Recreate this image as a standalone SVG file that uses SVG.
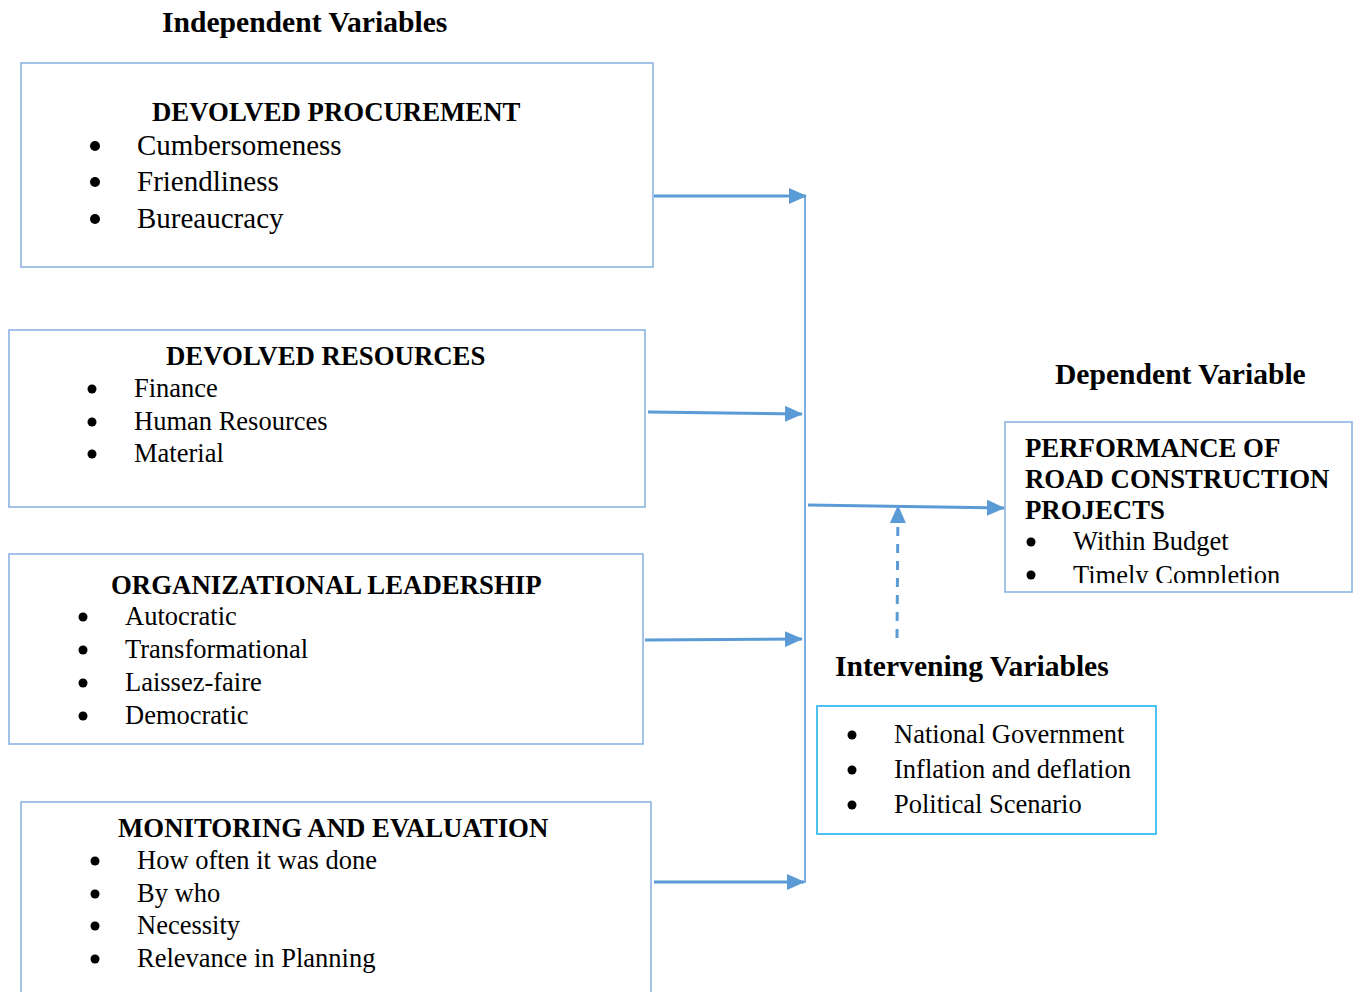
<svg xmlns="http://www.w3.org/2000/svg" width="1357" height="992" viewBox="0 0 1357 992">
<style>
.box{fill:#fff;stroke:#8db3e2;stroke-width:1.6}
.ibox{fill:#fff;stroke:#22b4ee;stroke-width:1.6}
.h{font-family:"Liberation Serif","Times New Roman",serif;font-weight:bold;font-size:29.6px;fill:#000}
.t{font-family:"Liberation Serif","Times New Roman",serif;font-weight:bold;font-size:26.8px;fill:#000}
.i{font-family:"Liberation Serif","Times New Roman",serif;font-size:26.5px;fill:#000}
.i1{font-family:"Liberation Serif","Times New Roman",serif;font-size:29px;fill:#000}
.b{fill:#000}
.arr{stroke:#5b9bd5;stroke-width:3;fill:none;marker-end:url(#ah)}
.vl{stroke:#7eaee0;stroke-width:2;fill:none}
.dash{stroke:#5b9bd5;stroke-width:3;fill:none;stroke-dasharray:9 8;marker-end:url(#ah)}
</style>
<defs>
<marker id="ah" markerUnits="userSpaceOnUse" markerWidth="18" markerHeight="16" refX="17" refY="8" orient="auto">
<path d="M0,0 L18,8 L0,16 Z" fill="#5b9bd5"/>
</marker>
<clipPath id="depclip"><rect x="1005" y="422" width="348" height="161"/></clipPath>
</defs>

<text class="h" x="162" y="32">Independent Variables</text>
<text class="h" x="1055" y="384">Dependent Variable</text>
<text class="h" x="835" y="676">Intervening Variables</text>

<g id="procurement">
<rect class="box" x="21" y="63" width="632" height="204"/>
<text class="t" x="152" y="121">DEVOLVED PROCUREMENT</text>
<circle class="b" cx="95" cy="146" r="5"/><text class="i1" x="137" y="155">Cumbersomeness</text>
<circle class="b" cx="95" cy="182" r="5"/><text class="i1" x="137" y="191">Friendliness</text>
<circle class="b" cx="95" cy="219" r="5"/><text class="i1" x="137" y="228">Bureaucracy</text>
</g>

<g id="resources">
<rect class="box" x="9" y="330" width="636" height="177"/>
<text class="t" x="166" y="365">DEVOLVED RESOURCES</text>
<circle class="b" cx="92" cy="389" r="4.5"/><text class="i" x="134" y="397">Finance</text>
<circle class="b" cx="92" cy="422" r="4.5"/><text class="i" x="134" y="430">Human Resources</text>
<circle class="b" cx="92" cy="454" r="4.5"/><text class="i" x="134" y="462">Material</text>
</g>

<g id="leadership">
<rect class="box" x="9" y="554" width="634" height="190"/>
<text class="t" x="111" y="594">ORGANIZATIONAL LEADERSHIP</text>
<circle class="b" cx="83" cy="617" r="4.5"/><text class="i" x="125" y="625">Autocratic</text>
<circle class="b" cx="83" cy="650" r="4.5"/><text class="i" x="125" y="658">Transformational</text>
<circle class="b" cx="83" cy="683" r="4.5"/><text class="i" x="125" y="691">Laissez-faire</text>
<circle class="b" cx="83" cy="716" r="4.5"/><text class="i" x="125" y="724">Democratic</text>
</g>

<g id="monitoring">
<rect class="box" x="21" y="802" width="630" height="200"/>
<text class="t" x="118" y="837">MONITORING AND EVALUATION</text>
<circle class="b" cx="95" cy="861" r="4.5"/><text class="i" x="137" y="869">How often it was done</text>
<circle class="b" cx="95" cy="894" r="4.5"/><text class="i" x="137" y="902">By who</text>
<circle class="b" cx="95" cy="926" r="4.5"/><text class="i" x="137" y="934">Necessity</text>
<circle class="b" cx="95" cy="959" r="4.5"/><text class="i" x="137" y="967">Relevance in Planning</text>
</g>

<g id="dependent">
<rect class="box" x="1005" y="422" width="347" height="170"/>
<g clip-path="url(#depclip)">
<text class="t" x="1025" y="457">PERFORMANCE OF</text>
<text class="t" x="1025" y="488">ROAD CONSTRUCTION</text>
<text class="t" x="1025" y="519">PROJECTS</text>
<circle class="b" cx="1031" cy="542" r="4.5"/><text class="i" x="1073" y="550">Within Budget</text>
<circle class="b" cx="1031" cy="575" r="4.5"/><text class="i" x="1073" y="584">Timely Completion</text>
</g>
</g>

<g id="intervening">
<rect class="ibox" x="817" y="706" width="339" height="128"/>
<circle class="b" cx="852" cy="735" r="4.5"/><text class="i" x="894" y="743">National Government</text>
<circle class="b" cx="852" cy="770" r="4.5"/><text class="i" x="894" y="778">Inflation and deflation</text>
<circle class="b" cx="852" cy="805" r="4.5"/><text class="i" x="894" y="813">Political Scenario</text>
</g>

<g id="connectors">
<line class="vl" x1="805" y1="196" x2="805" y2="883"/>
<line class="arr" x1="654" y1="196" x2="806" y2="196"/>
<line class="arr" x1="648" y1="412" x2="802" y2="414"/>
<line class="arr" x1="645" y1="640" x2="802" y2="639"/>
<line class="arr" x1="654" y1="882" x2="804" y2="882"/>
<line class="arr" x1="808" y1="505" x2="1004" y2="508"/>
<line class="dash" x1="897" y1="638" x2="898" y2="506"/>
</g>
</svg>
